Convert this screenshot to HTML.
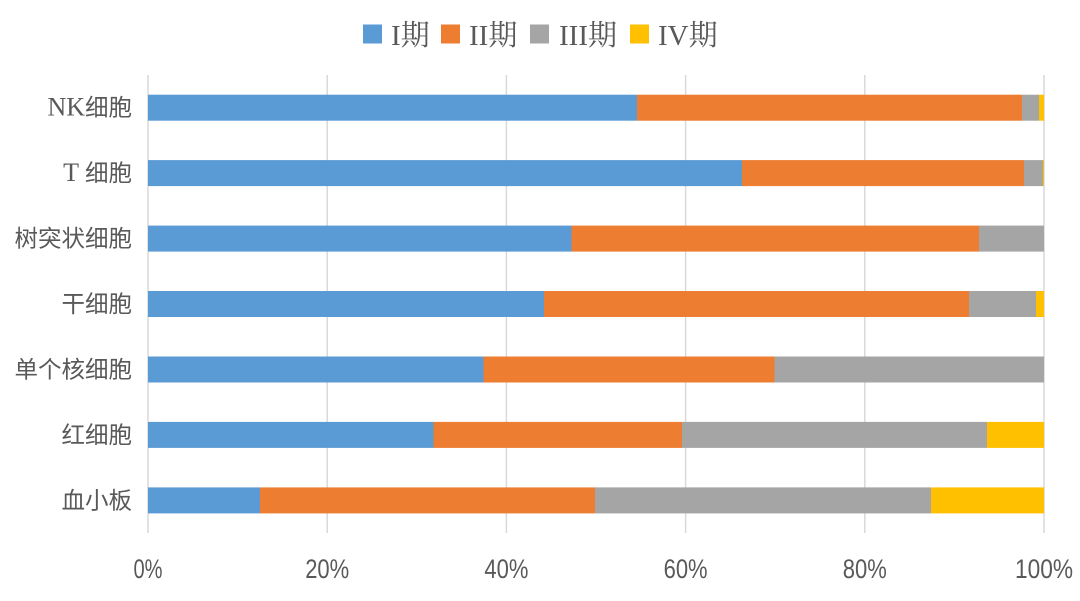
<!DOCTYPE html>
<html>
<head>
<meta charset="utf-8">
<style>
  html,body{margin:0;padding:0;background:#fff;}
  svg{display:block;}
  .lbl{font-family:"Liberation Serif","Noto Sans CJK SC",sans-serif;font-size:23.5px;fill:#595959;}
  .lat{font-size:26px;}
  .tick{font-family:"Liberation Sans",sans-serif;font-size:27px;fill:#595959;}
  .leg{font-family:"Liberation Serif","Noto Serif CJK SC",serif;font-size:29px;fill:#595959;}
</style>
</head>
<body>
<svg width="1080" height="601" viewBox="0 0 1080 601" xmlns="http://www.w3.org/2000/svg">
  <rect width="1080" height="601" fill="#fff"/>
  <!-- legend -->
  <rect x="363" y="24.5" width="19" height="19" fill="#5B9BD5"/>
  <text class="leg" x="391" y="45">I期</text>
  <rect x="441" y="24.5" width="19" height="19" fill="#ED7D31"/>
  <text class="leg" x="469" y="45">II期</text>
  <rect x="530" y="24.5" width="19" height="19" fill="#A5A5A5"/>
  <text class="leg" x="559" y="45">III期</text>
  <rect x="630" y="24.5" width="19" height="19" fill="#FFC000"/>
  <text class="leg" x="658" y="45">IV期</text>

  <!-- gridlines -->
  <g stroke="#d9d9d9" stroke-width="1.5">
    <line x1="148" y1="75" x2="148" y2="533"/>
    <line x1="327.2" y1="75" x2="327.2" y2="533"/>
    <line x1="506.4" y1="75" x2="506.4" y2="533"/>
    <line x1="685.6" y1="75" x2="685.6" y2="533"/>
    <line x1="864.8" y1="75" x2="864.8" y2="533"/>
    <line x1="1044" y1="75" x2="1044" y2="533"/>
  </g>

  <!-- bars -->
  <g>
    <rect x="148" y="94.7" width="489" height="26" fill="#5B9BD5"/>
    <rect x="637" y="94.7" width="385" height="26" fill="#ED7D31"/>
    <rect x="1022" y="94.7" width="17" height="26" fill="#A5A5A5"/>
    <rect x="1039" y="94.7" width="5" height="26" fill="#FFC000"/>
  </g>
  <g>
    <rect x="148" y="160.1" width="594" height="26" fill="#5B9BD5"/>
    <rect x="742" y="160.1" width="282" height="26" fill="#ED7D31"/>
    <rect x="1024" y="160.1" width="19" height="26" fill="#A5A5A5"/>
    <rect x="1043" y="160.1" width="1" height="26" fill="#FFC000"/>
  </g>
  <g>
    <rect x="148" y="225.6" width="423.5" height="26" fill="#5B9BD5"/>
    <rect x="571.5" y="225.6" width="407.5" height="26" fill="#ED7D31"/>
    <rect x="979" y="225.6" width="65" height="26" fill="#A5A5A5"/>
  </g>
  <g>
    <rect x="148" y="291" width="396" height="26" fill="#5B9BD5"/>
    <rect x="544" y="291" width="425" height="26" fill="#ED7D31"/>
    <rect x="969" y="291" width="67" height="26" fill="#A5A5A5"/>
    <rect x="1036" y="291" width="8" height="26" fill="#FFC000"/>
  </g>
  <g>
    <rect x="148" y="356.5" width="335.5" height="26" fill="#5B9BD5"/>
    <rect x="483.5" y="356.5" width="291" height="26" fill="#ED7D31"/>
    <rect x="774.5" y="356.5" width="269.5" height="26" fill="#A5A5A5"/>
  </g>
  <g>
    <rect x="148" y="421.9" width="285.5" height="26" fill="#5B9BD5"/>
    <rect x="433.5" y="421.9" width="248.5" height="26" fill="#ED7D31"/>
    <rect x="682" y="421.9" width="305" height="26" fill="#A5A5A5"/>
    <rect x="987" y="421.9" width="57" height="26" fill="#FFC000"/>
  </g>
  <g>
    <rect x="148" y="487.4" width="112" height="26" fill="#5B9BD5"/>
    <rect x="260" y="487.4" width="335" height="26" fill="#ED7D31"/>
    <rect x="595" y="487.4" width="336" height="26" fill="#A5A5A5"/>
    <rect x="931" y="487.4" width="113" height="26" fill="#FFC000"/>
  </g>

  <!-- category labels -->
  <g class="lbl" text-anchor="end">
    <text x="132" y="115.5"><tspan class="lat">NK</tspan>细胞</text>
    <text x="132" y="181"><tspan class="lat">T </tspan>细胞</text>
    <text x="132" y="246.5">树突状细胞</text>
    <text x="132" y="312">干细胞</text>
    <text x="132" y="377.5">单个核细胞</text>
    <text x="132" y="443">红细胞</text>
    <text x="132" y="508.5">血小板</text>
  </g>

  <!-- tick labels -->
  <g class="tick" text-anchor="middle">
    <text x="148" y="578" textLength="29" lengthAdjust="spacingAndGlyphs">0%</text>
    <text x="327.2" y="578" textLength="44" lengthAdjust="spacingAndGlyphs">20%</text>
    <text x="506.4" y="578" textLength="44" lengthAdjust="spacingAndGlyphs">40%</text>
    <text x="685.6" y="578" textLength="44" lengthAdjust="spacingAndGlyphs">60%</text>
    <text x="864.8" y="578" textLength="44" lengthAdjust="spacingAndGlyphs">80%</text>
    <text x="1044" y="578" textLength="58" lengthAdjust="spacingAndGlyphs">100%</text>
  </g>
</svg>
</body>
</html>
